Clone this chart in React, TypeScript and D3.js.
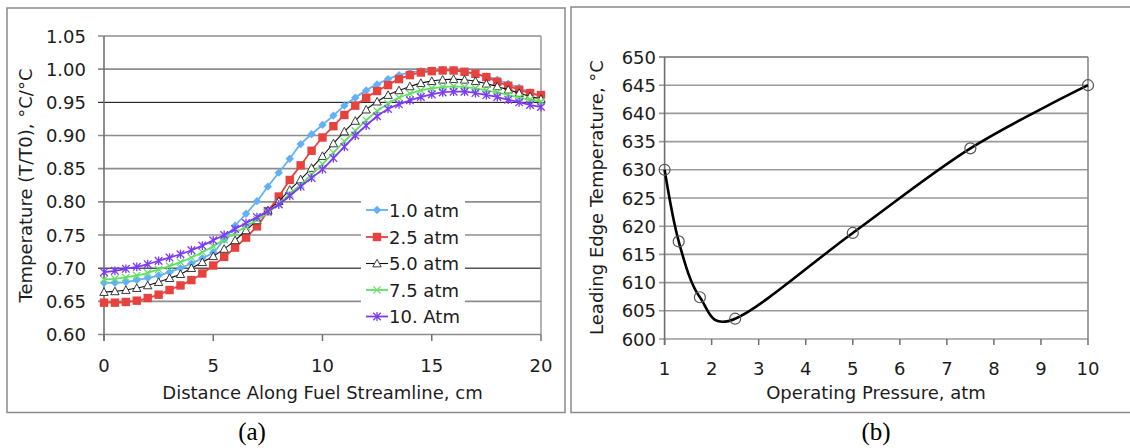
import React from 'react';
import * as d3 from 'd3';

// ---------- Panel (a) data ----------
const distance = [0, 0.5, 1, 1.5, 2, 2.5, 3, 3.5, 4, 4.5, 5, 5.5, 6, 6.5, 7, 7.5, 8, 8.5, 9, 9.5, 10,
  10.5, 11, 11.5, 12, 12.5, 13, 13.5, 14, 14.5, 15, 15.5, 16, 16.5, 17, 17.5, 18, 18.5, 19, 19.5, 20];

const atm1_0 = [0.678, 0.678, 0.679, 0.682, 0.685, 0.689, 0.694, 0.700, 0.707, 0.715, 0.724, 0.743, 0.764, 0.782, 0.801, 0.823, 0.844, 0.865, 0.887, 0.902, 0.916,
  0.930, 0.945, 0.957, 0.968, 0.977, 0.985, 0.991, 0.995, 0.997, 0.998, 0.999, 0.998, 0.996, 0.993, 0.989, 0.984, 0.978, 0.972, 0.965, 0.958];
const atm2_5 = [0.648, 0.648, 0.649, 0.651, 0.655, 0.660, 0.667, 0.674, 0.682, 0.692, 0.704, 0.717, 0.731, 0.746, 0.763, 0.786, 0.808, 0.833, 0.855, 0.877, 0.897,
  0.914, 0.931, 0.945, 0.957, 0.967, 0.976, 0.985, 0.991, 0.995, 0.997, 0.998, 0.998, 0.996, 0.993, 0.988, 0.981, 0.975, 0.969, 0.964, 0.961];
const atm5_0 = [0.664, 0.665, 0.667, 0.670, 0.674, 0.679, 0.685, 0.691, 0.700, 0.709, 0.718, 0.729, 0.742, 0.757, 0.772, 0.787, 0.801, 0.818, 0.834, 0.851, 0.869,
  0.888, 0.906, 0.922, 0.939, 0.951, 0.961, 0.968, 0.974, 0.979, 0.982, 0.984, 0.985, 0.984, 0.982, 0.978, 0.974, 0.969, 0.964, 0.959, 0.955];
const atm7_5 = [0.683, 0.684, 0.686, 0.689, 0.693, 0.698, 0.703, 0.709, 0.716, 0.724, 0.733, 0.743, 0.753, 0.763, 0.773, 0.784, 0.797, 0.812, 0.826, 0.841, 0.857,
  0.874, 0.891, 0.907, 0.923, 0.937, 0.948, 0.957, 0.963, 0.968, 0.971, 0.973, 0.974, 0.973, 0.971, 0.968, 0.965, 0.961, 0.957, 0.954, 0.951];
const atm10 = [0.694, 0.696, 0.699, 0.702, 0.706, 0.711, 0.716, 0.721, 0.727, 0.734, 0.742, 0.750, 0.759, 0.768, 0.777, 0.786, 0.796, 0.809, 0.823, 0.836, 0.849,
  0.866, 0.883, 0.900, 0.915, 0.929, 0.940, 0.947, 0.953, 0.958, 0.962, 0.965, 0.966, 0.966, 0.964, 0.961, 0.958, 0.954, 0.950, 0.946, 0.943];

const seriesNames = ['1.0 atm', '2.5 atm', '5.0 atm', '7.5 atm', '10. Atm'];
const seriesColors = ['#63b0f6', '#e8423f', '#111111', '#62e062', '#7c3cf7'];
const seriesMarkers = ['diamond', 'square', 'triangle', 'x', 'star'];
const seriesValues = [atm1_0, atm2_5, atm5_0, atm7_5, atm10];

const aYTicks = [0.60, 0.65, 0.70, 0.75, 0.80, 0.85, 0.90, 0.95, 1.00, 1.05];
const aYLabels = ['0.60', '0.65', '0.70', '0.75', '0.80', '0.85', '0.90', '0.95', '1.00', '1.05'];
const aXTicks = [0, 5, 10, 15, 20];

// ---------- Panel (b) data ----------
const pressure = [1, 1.3, 1.75, 2.5, 5, 7.5, 10];
const leTemp = [630, 617.3, 607.4, 603.6, 618.8, 633.8, 645];
const bYTicks = [600, 605, 610, 615, 620, 625, 630, 635, 640, 645, 650];
const bXTicks = [1, 2, 3, 4, 5, 6, 7, 8, 9, 10];

const FONT = '"DejaVu Sans", Verdana, sans-serif';
const TXT = '#1c1c1c';

function Marker({ type, x, y, color }: { type: string; x: number; y: number; color: string }) {
  if (type === 'diamond') {
    const r = 4.2;
    return <path d={`M${x},${y - r}L${x + r},${y}L${x},${y + r}L${x - r},${y}Z`} fill={color} />;
  }
  if (type === 'square') {
    const r = 4.2;
    return <rect x={x - r} y={y - r} width={2 * r} height={2 * r} fill={color} />;
  }
  if (type === 'triangle') {
    const r = 4.2;
    return <path d={`M${x},${y - r}L${x + r},${y + r * 0.8}L${x - r},${y + r * 0.8}Z`} fill="#fff" stroke="#222" strokeWidth={0.9} />;
  }
  if (type === 'x') {
    const r = 3.6;
    return <path d={`M${x - r},${y - r}L${x + r},${y + r}M${x - r},${y + r}L${x + r},${y - r}`} stroke={color} strokeWidth={1.3} />;
  }
  const r = 3.8;
  return <path d={`M${x - r},${y - r}L${x + r},${y + r}M${x - r},${y + r}L${x + r},${y - r}M${x},${y - r - 0.6}L${x},${y + r + 0.6}`} stroke={color} strokeWidth={1.3} />;
}

function PanelA() {
  const x = d3.scaleLinear().domain([0, 20]).range([104, 541]);
  const y = d3.scaleLinear().domain([0.6, 1.05]).range([334.5, 36]);
  const line = d3.line<number>().x((_, i) => x(distance[i])).y((d) => y(d)).curve(d3.curveCatmullRom.alpha(0.5));
  const legendY = [210, 237, 263.5, 290, 316.5];
  return (
    <g>
      <rect x={7} y={8} width={558} height={404.5} fill="none" stroke="#8a8a8a" strokeWidth={1.5} />
      {aYTicks.map((t) => {
        const dark = Math.abs(t - 0.95) < 1e-6 || Math.abs(t - 0.70) < 1e-6;
        return (
          <line key={t} x1={98} x2={541} y1={y(t)} y2={y(t)} stroke={dark ? '#000' : '#8c8c8c'} strokeWidth={dark ? 1 : 1.7} />
        );
      })}
      <line x1={541} x2={541} y1={36} y2={334.5} stroke="#9a9a9a" strokeWidth={1.5} />
      <line x1={104} x2={104} y1={36} y2={341} stroke="#707070" strokeWidth={1.6} />
      {aXTicks.map((t) => (
        <line key={t} x1={x(t)} x2={x(t)} y1={334.5} y2={341} stroke="#707070" strokeWidth={1.5} />
      ))}
      {aYTicks.map((t, i) => (
        <text key={t} x={86} y={y(t) + 6.5} textAnchor="end" fontFamily={FONT} fontSize={18} fill={TXT}>{aYLabels[i]}</text>
      ))}
      {aXTicks.map((t) => (
        <text key={t} x={x(t)} y={371.5} textAnchor="middle" fontFamily={FONT} fontSize={18} fill={TXT}>{t}</text>
      ))}
      <text x={322.5} y={398.5} textAnchor="middle" fontFamily={FONT} fontSize={18} fill={TXT}>Distance Along Fuel Streamline, cm</text>
      <text transform="translate(31.5,185.5) rotate(-90)" textAnchor="middle" fontFamily={FONT} fontSize={18} fill={TXT}>Temperature (T/T0), °C/°C</text>

      {seriesValues.map((vals, si) => (
        <g key={si}>
          <path d={line(vals) || ''} fill="none" stroke={seriesColors[si]} strokeWidth={si === 2 ? 1.1 : 1.8} />
          {vals.map((v, i) => (
            <Marker key={i} type={seriesMarkers[si]} x={x(distance[i])} y={y(v)} color={seriesColors[si]} />
          ))}
        </g>
      ))}

      <rect x={361} y={192} width={104} height={136} fill="#fff" />
      {seriesNames.map((n, si) => (
        <g key={n}>
          <line x1={366} x2={388} y1={legendY[si]} y2={legendY[si]} stroke={seriesColors[si]} strokeWidth={si === 2 ? 1.1 : 1.8} />
          <Marker type={seriesMarkers[si]} x={377} y={legendY[si]} color={seriesColors[si]} />
          <text x={389} y={legendY[si] + 6.5} fontFamily={FONT} fontSize={18} fill={TXT}>{n}</text>
        </g>
      ))}
      <text x={252} y={440} textAnchor="middle" fontFamily='"Liberation Serif", "Times New Roman", serif' fontSize={25} fill="#000">(a)</text>
    </g>
  );
}

function PanelB() {
  const x = d3.scaleLinear().domain([1, 10]).range([664.6, 1088]);
  const y = d3.scaleLinear().domain([600, 650]).range([339, 57]);
  const line = d3.line<number>().x((_, i) => x(pressure[i])).y((d) => y(d)).curve(d3.curveCatmullRom.alpha(0));
  return (
    <g>
      <rect x={571} y={7} width={600} height={405.5} fill="none" stroke="#8a8a8a" strokeWidth={1.5} />
      {bYTicks.map((t) => (
        <line key={t} x1={659} x2={1088} y1={y(t)} y2={y(t)} stroke={t === 650 ? '#707070' : '#9a9a9a'} strokeWidth={1.6} />
      ))}
      <line x1={1088} x2={1088} y1={57} y2={339} stroke="#8a8a8a" strokeWidth={1.6} />
      <line x1={664.6} x2={664.6} y1={57} y2={345} stroke="#707070" strokeWidth={1.6} />
      {bXTicks.map((t) => (
        <line key={t} x1={x(t)} x2={x(t)} y1={339} y2={345} stroke="#707070" strokeWidth={1.5} />
      ))}
      {bYTicks.map((t) => (
        <text key={t} x={656} y={y(t) + 6.5} textAnchor="end" fontFamily={FONT} fontSize={18} fill={TXT}>{t}</text>
      ))}
      {bXTicks.map((t) => (
        <text key={t} x={x(t)} y={374.5} textAnchor="middle" fontFamily={FONT} fontSize={18} fill={TXT}>{t}</text>
      ))}
      <text x={876} y={398.5} textAnchor="middle" fontFamily={FONT} fontSize={18} fill={TXT}>Operating Pressure, atm</text>
      <text transform="translate(603,197.5) rotate(-90)" textAnchor="middle" fontFamily={FONT} fontSize={18} fill={TXT}>Leading Edge Temperature, °C</text>
      <path d={line(leTemp) || ''} fill="none" stroke="#000" strokeWidth={2.6} />
      {leTemp.map((v, i) => (
        <circle key={i} cx={x(pressure[i])} cy={y(v)} r={5.5} fill="none" stroke="#555" strokeWidth={1.2} />
      ))}
      <text x={876} y={440} textAnchor="middle" fontFamily='"Liberation Serif", "Times New Roman", serif' fontSize={25} fill="#000">(b)</text>
    </g>
  );
}

export default function App() {
  return (
    <svg width={1130} height={448} style={{ position: 'absolute', left: 0, top: 0, background: '#fff' }}>
      <rect x={0} y={0} width={1130} height={448} fill="#fff" />
      <PanelA />
      <PanelB />
    </svg>
  );
}
